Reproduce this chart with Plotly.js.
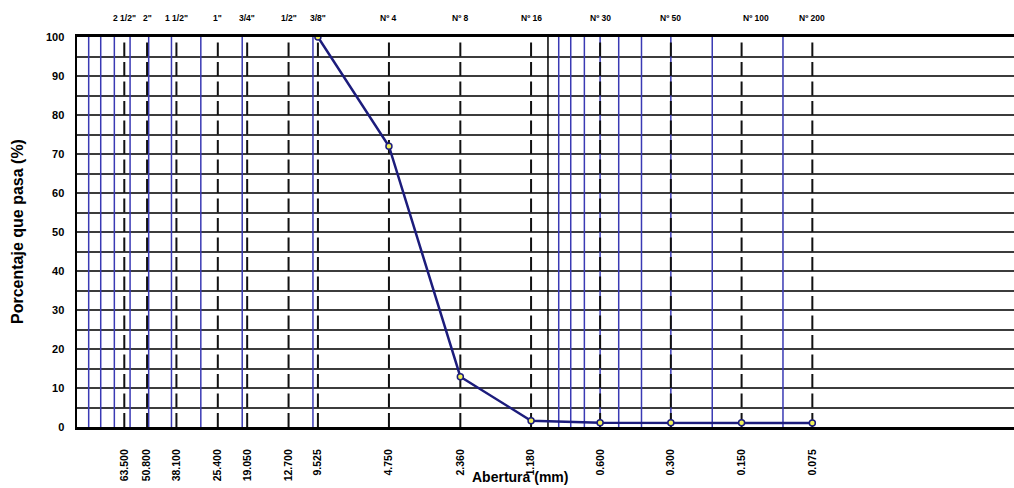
<!DOCTYPE html>
<html><head><meta charset="utf-8">
<script src="https://cdn.plot.ly/plotly-3.0.1.min.js"></script>
<style>html,body{margin:0;padding:0;background:#fff}</style>
</head><body><div id="chart" style="width:1014px;height:488px"></div>
<script>
const sieveNames = ['2 1/2"', '2"', '1 1/2"', '1"', '3/4"', '1/2"', '3/8"', 'Nº 4', 'Nº 8', 'Nº 16', 'Nº 30', 'Nº 50', 'Nº 100', 'Nº 200'];
const sieveSizes = [63.5, 50.8, 38.1, 25.4, 19.05, 12.7, 9.525, 4.75, 2.36, 1.18, 0.6, 0.3, 0.15, 0.075];
const openingLabels = ['63.500', '50.800', '38.100', '25.400', '19.050', '12.700', '9.525', '4.750', '2.360', '1.180', '0.600', '0.300', '0.150', '0.075'];
const curveSizes = [9.525, 4.75, 2.36, 1.18, 0.6, 0.3, 0.15, 0.075];
const passingPct = [100, 72, 12.9, 1.6, 1.1, 1.1, 1.1, 1.0];
const blueGrid = [90, 80, 70, 60, 50, 40, 30, 20, 10, 0.9, 0.8, 0.7, 0.6, 0.5, 0.4, 0.3, 0.2, 0.1];
const blackGrid = [1];
const yTicks = [0, 10, 20, 30, 40, 50, 60, 70, 80, 90, 100];
const yTitle = 'Porcentaje que pasa (%)';
const xTitle = 'Abertura (mm)';

function vlines(vals) {
  const x = [], y = [];
  vals.forEach(v => { x.push(v, v, null); y.push(0, 100, null); });
  return {x, y};
}
const FONT = 'Arial, "Liberation Sans", sans-serif';
const bl = vlines(blueGrid), bk = vlines(blackGrid), sv = vlines(sieveSizes);
const traces = [
  {x: bl.x, y: bl.y, mode: 'lines', line: {color: '#3a3ab4', width: 1.5}, hoverinfo: 'skip', showlegend: false},
  {x: bk.x, y: bk.y, mode: 'lines', line: {color: '#000', width: 1.5}, hoverinfo: 'skip', showlegend: false},
  {x: sv.x, y: sv.y, mode: 'lines', line: {color: '#111', width: 2, dash: '14px,5.5px'}, hoverinfo: 'skip', showlegend: false},
  {x: curveSizes, y: passingPct, mode: 'lines+markers', showlegend: false,
   line: {color: '#1c1c7c', width: 2.5},
   marker: {symbol: 'circle', size: 6, color: '#f2f25a', line: {color: '#1c1c7c', width: 1.5}}}
];

const annotations = sieveNames.map((n, i) => ({
  text: n, x: Math.log10(sieveSizes[i]), xref: 'x', y: 1, yref: 'paper',
  yanchor: 'middle', xanchor: 'center', yshift: 19.5, xshift: n === 'Nº 100' ? 14 : 0,
  showarrow: false, font: {family: FONT, size: 8.5, weight: 'bold', color: '#000'}
}));
annotations.push({text: yTitle, textangle: -90, x: (17 - 77) / 937, xref: 'paper', y: 0.5, yref: 'paper',
  xanchor: 'center', yanchor: 'middle', showarrow: false, font: {family: FONT, size: 16, weight: 'bold', color: '#000'}});
annotations.push({text: xTitle, x: (520 - 77) / 937, xref: 'paper', y: 0, yref: 'paper', yshift: -50,
  xanchor: 'center', yanchor: 'middle', showarrow: false, font: {family: FONT, size: 14, weight: 'bold', color: '#000'}});

const layout = {
  width: 1014, height: 488,
  margin: {l: 77, r: 0, t: 37, b: 61},
  paper_bgcolor: '#fff', plot_bgcolor: '#fff',
  showlegend: false,
  xaxis: {type: 'log', range: [2.004, -1.983], tickvals: sieveSizes, ticktext: openingLabels,
    tickangle: -90, ticks: '', showgrid: false, zeroline: false,
    showline: true, mirror: true, linecolor: '#000', linewidth: 3,
    tickfont: {family: FONT, size: 10.5, weight: 'bold', color: '#000'}, ticklabelstandoff: 15},
  yaxis: {range: [0, 100], tickvals: yTicks, ticks: '', zeroline: false,
    showgrid: true, gridcolor: '#3c3c3c', gridwidth: 2,
    minor: {dtick: 5, showgrid: true, gridcolor: '#3c3c3c', gridwidth: 2, ticks: ''},
    showline: true, linecolor: '#000', linewidth: 2.5,
    tickfont: {family: FONT, size: 11, weight: 'bold', color: '#000'}, ticklabelstandoff: 8},
  annotations: annotations
};
Plotly.newPlot('chart', traces, layout, {staticPlot: true});
</script></body></html>
